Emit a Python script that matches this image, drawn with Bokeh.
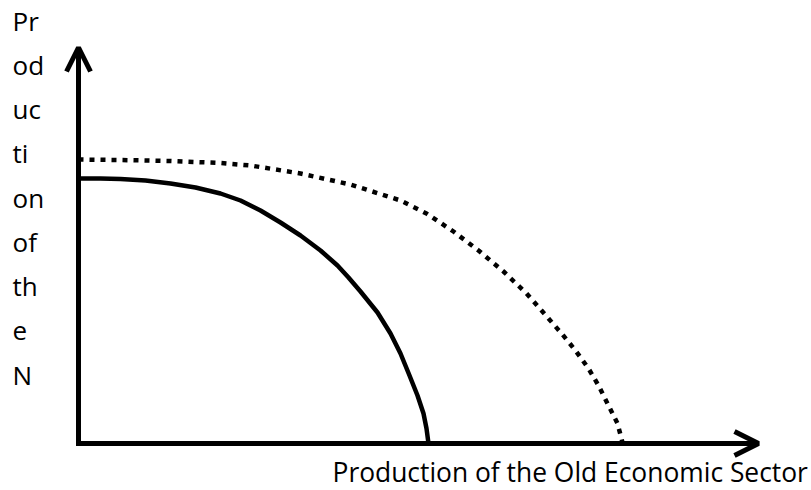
from bokeh.plotting import figure
from bokeh.models import Range1d, Arrow, OpenHead, ColumnDataSource, Label
from bokeh.core.properties import value
from bokeh.embed import file_html
from bokeh.resources import INLINE

# --- data (production units) ---
old_solid = [0, 22, 42, 67, 92, 117, 142, 162, 182, 202, 222, 242, 259, 270, 282,
             299, 312, 322, 331, 339, 345, 348, 350]
new_solid = [265, 265, 264.5, 263, 260, 256, 250, 243, 233, 221, 208, 193, 178, 166, 152,
             131, 110, 90, 68, 48, 30, 15, 0]

old_dotted = [0, 42, 92, 142, 172, 222, 272, 322, 348, 375, 400, 425, 448, 470, 484,
              497, 510, 520, 530, 539, 544]
new_dotted = [284, 283.5, 282.5, 280.5, 278, 270, 259, 243, 230, 212, 193, 172, 150, 125, 109,
              93, 75, 58, 38, 20, 1]

x_axis_length = 680
y_axis_length = 396

x_label = "Production of the Old Economic Sector"
y_label_parts = ["Pr", "od", "uc", "ti", "on", "of", "th", "e", "N"]

FONT = "Open Sans"

p = figure(width=811, height=490, output_backend="svg", toolbar_location=None,
           x_range=Range1d(-78, 733), y_range=Range1d(-47, 443),
           x_axis_location=None, y_axis_location=None, min_border=0)
p.grid.visible = False
p.outline_line_color = None
p.background_fill_color = "white"
p.border_fill_color = "white"

# curves
p.line(old_solid, new_solid, line_color="black", line_width=4.5, line_join="round")
p.line(old_dotted, new_dotted, line_color="black", line_width=4.5, line_dash="5 6")

# axes with arrows
p.add_layout(Arrow(end=OpenHead(size=24, line_width=5, line_color="black"),
                   x_start=-2.5, y_start=0, x_end=x_axis_length, y_end=0,
                   line_width=5, line_color="black"))
p.add_layout(Arrow(end=OpenHead(size=24, line_width=5, line_color="black"),
                   x_start=0, y_start=-2.5, x_end=0, y_end=y_axis_length,
                   line_width=5, line_color="black"))

# y label (wrapped fragments)
ys = [423 - 44.3 * i for i in range(len(y_label_parts))]
src = ColumnDataSource(dict(x=[-66] * len(y_label_parts), y=ys, t=y_label_parts))
p.text(x="x", y="y", text="t", source=src, text_font=value(FONT),
       text_font_size="26px", text_baseline="alphabetic", text_align="left",
       text_color="black")

# x label
p.add_layout(Label(x=254, y=-28, text=x_label, text_font=FONT,
                   text_font_size="26.4px", text_baseline="alphabetic",
                   text_align="left", text_color="black"))

open("out.html", "w").write(file_html(p, INLINE))
